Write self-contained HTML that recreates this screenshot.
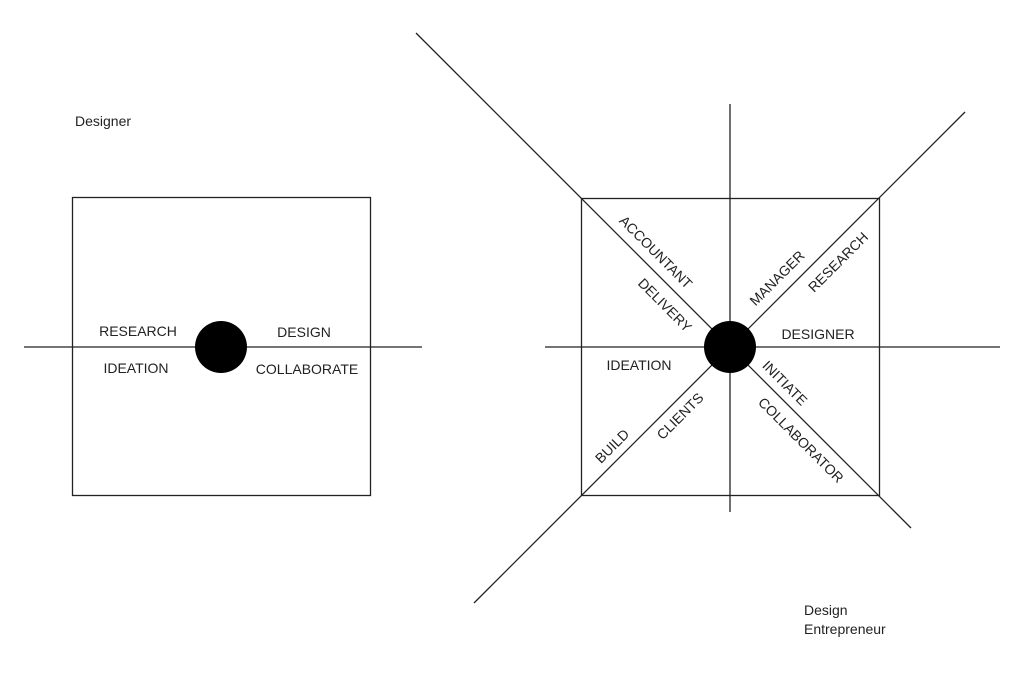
<!DOCTYPE html>
<html><head><meta charset="utf-8"><style>
html,body{margin:0;padding:0;background:#fff;}
svg text{font-family:"Liberation Sans",sans-serif;font-size:14px;fill:#222;}
</style></head><body>
<svg width="1024" height="682" viewBox="0 0 1024 682" xmlns="http://www.w3.org/2000/svg">
<g stroke="#222" stroke-width="1.3" fill="none">
<rect x="72.5" y="197.5" width="298" height="298"/>
<line x1="24" y1="347" x2="422" y2="347"/>
<rect x="581.5" y="198.5" width="298" height="297"/>
<line x1="545" y1="347" x2="1000" y2="347"/>
<line x1="730" y1="104" x2="730" y2="512"/>
<line x1="416" y1="33" x2="911" y2="528"/>
<line x1="965" y1="112" x2="474" y2="603"/>
</g>
<circle cx="221" cy="347" r="26" fill="#000"/>
<circle cx="730" cy="347" r="26" fill="#000"/>
<g dominant-baseline="central">
<text x="75" y="121">Designer</text>
<text x="138" y="331" text-anchor="middle">RESEARCH</text>
<text x="136" y="368" text-anchor="middle">IDEATION</text>
<text x="304" y="332" text-anchor="middle">DESIGN</text>
<text x="307" y="369" text-anchor="middle">COLLABORATE</text>
<text x="804" y="610">Design</text>
<text x="804" y="629">Entrepreneur</text>
<text x="818" y="334" text-anchor="middle">DESIGNER</text>
<text x="639" y="365" text-anchor="middle">IDEATION</text>
<text text-anchor="middle" transform="translate(656,252) rotate(45)">ACCOUNTANT</text>
<text text-anchor="middle" transform="translate(665,305) rotate(45)">DELIVERY</text>
<text text-anchor="middle" transform="translate(777,278) rotate(-45)">MANAGER</text>
<text text-anchor="middle" transform="translate(838,262) rotate(-45)">RESEARCH</text>
<text text-anchor="middle" transform="translate(785,383) rotate(45)">INITIATE</text>
<text text-anchor="middle" transform="translate(801,440) rotate(45)">COLLABORATOR</text>
<text text-anchor="middle" transform="translate(680,416) rotate(-45)">CLIENTS</text>
<text text-anchor="middle" transform="translate(612,446) rotate(-45)">BUILD</text>
</g>
</svg>
</body></html>
